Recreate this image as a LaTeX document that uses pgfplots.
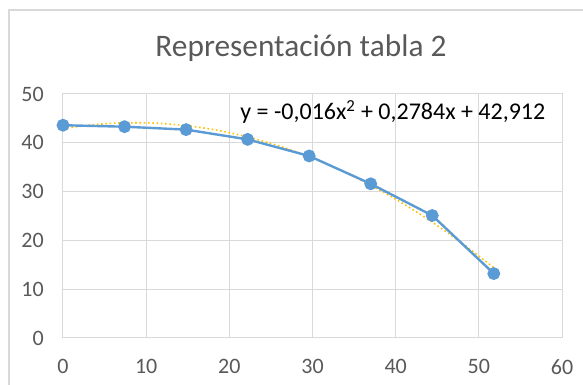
\documentclass[border=0pt]{standalone}
\usepackage{fontspec}
\setmainfont{Carlito}
\usepackage{pgfplots}
\pgfplotsset{compat=1.18}
\definecolor{serieblue}{HTML}{5B9BD5}
\definecolor{trendgold}{HTML}{FFC000}
\definecolor{gridgray}{HTML}{D9D9D9}
\definecolor{labelgray}{HTML}{595959}
\definecolor{framegray}{HTML}{D9D9D9}

\pgfplotstableread{
x     y
0     43.6
7.4   43.3
14.8  42.7
22.2  40.7
29.6  37.3
37.0  31.6
44.4  25.1
51.8  13.2
}\datos

% polynomial trendline y = -0,016x^2 + 0,2784x + 42,912 sampled along the data range
\pgfplotstableread{
x     y
0     42.912
3.7   43.723
7.4   44.096
11.1  44.031
14.8  43.527
18.5  42.586
22.2  41.207
25.9  39.390
29.6  37.134
33.3  34.441
37.0  31.309
40.7  27.739
44.4  23.731
48.1  19.285
51.8  14.401
}\tendencia

\begin{document}
\begin{tikzpicture}[x=0.75pt,y=0.75pt]
\begin{axis}[
  at={(0pt,0pt)}, anchor=south west,
  scale only axis,
  width=374.25pt, height=183pt,
  xmin=0, xmax=60, ymin=0, ymax=50,
  xtick={0,10,...,60}, ytick={0,10,...,50},
  grid=major,
  major grid style={gridgray, line width=0.75pt},
  axis line style={gridgray, line width=0.75pt},
  tick style={draw=none},
  ticklabel style={labelgray, font=\fontsize{16.5}{18}\selectfont, inner sep=0pt},
  /pgf/number format/assume math mode=true,
  xticklabel style={anchor=center, yshift=-21.5pt},
  yticklabel style={anchor=east, xshift=-14.2pt},
  clip=false,
]
\addplot[trendgold, line width=1.2pt, dotted, smooth] table {\tendencia};
\addplot[serieblue, line width=1.8pt, mark=*, mark size=3.9pt,
  mark options={fill=serieblue, draw=serieblue}] table {\datos};
\node[black, anchor=west, inner sep=0pt, font=\fontsize{18}{20}\selectfont] at (axis cs:21.3,46.3)
  {y = -0,016x\textsuperscript{2} + 0,2784x + 42,912};
\end{axis}
% chart frame and title
\draw[framegray, line width=1.1pt] (-54,-60) -- (-54,328) -- (540,328);
\node[labelgray, font=\fontsize{23.5}{26}\selectfont, anchor=center] at (238,290) {Representación tabla 2};
\pgfresetboundingbox
\useasboundingbox (-63,-47) rectangle (520,338);
\end{tikzpicture}
\end{document}
